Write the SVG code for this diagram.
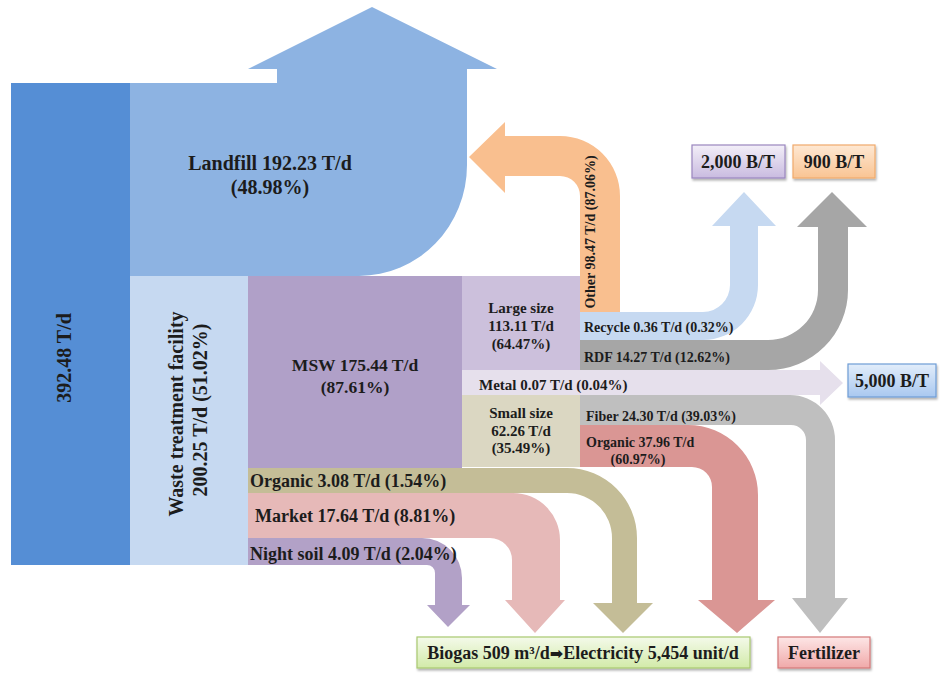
<svg xmlns="http://www.w3.org/2000/svg" width="940" height="675" viewBox="0 0 940 675">
<style>
text{font-family:"Liberation Serif","Times New Roman",serif;font-weight:bold;fill:#1c1c1c}
.s20{font-size:20px}.s18{font-size:18px}.s175{font-size:17.5px}.s15{font-size:15px}.s14{font-size:14px}
.m{text-anchor:middle}
.box{stroke-width:1.2;filter:url(#sh)}
</style>
<defs>
<filter id="sh" x="-10%" y="-20%" width="120%" height="150%"><feDropShadow dx="1" dy="2" stdDeviation="1.2" flood-color="#000" flood-opacity="0.3"/></filter>
<linearGradient id="gPur" x1="0" y1="0" x2="0" y2="1"><stop offset="0" stop-color="#f3eff8"/><stop offset="1" stop-color="#c9bbe0"/></linearGradient>
<linearGradient id="gOra" x1="0" y1="0" x2="0" y2="1"><stop offset="0" stop-color="#fee8d3"/><stop offset="1" stop-color="#f9c493"/></linearGradient>
<linearGradient id="gBlu" x1="0" y1="0" x2="0" y2="1"><stop offset="0" stop-color="#e2edfa"/><stop offset="1" stop-color="#a9c8f0"/></linearGradient>
<linearGradient id="gGrn" x1="0" y1="0" x2="0" y2="1"><stop offset="0" stop-color="#f4faea"/><stop offset="1" stop-color="#d2eaa9"/></linearGradient>
<linearGradient id="gRed" x1="0" y1="0" x2="0" y2="1"><stop offset="0" stop-color="#fde6e6"/><stop offset="1" stop-color="#f0a9a9"/></linearGradient>
</defs>

<g id="nodes">
  <g id="n-total"><rect x="11" y="83" width="119" height="482" fill="#558ed5"/>
    <text class="s20 m" transform="translate(71,358) rotate(-90)">392.48 T/d</text></g>
  <g id="n-wtf"><rect x="130" y="276" width="118" height="289" fill="#c6d9f1"/>
    <text class="s20 m" transform="translate(183,414) rotate(-90)">Waste treatment facility</text>
    <text class="s20 m" transform="translate(207,410) rotate(-90)">200.25 T/d (51.02%)</text></g>
  <g id="n-msw"><rect x="248" y="276" width="214" height="192" fill="#b0a0c8"/>
    <text class="s175 m" x="355" y="371">MSW 175.44 T/d</text>
    <text class="s175 m" x="355" y="393">(87.61%)</text></g>
  <g id="n-large"><rect x="462" y="276" width="118" height="94" fill="#ccc0dc"/>
    <text class="s15 m" x="521" y="313">Large size</text>
    <text class="s15 m" x="521" y="331">113.11 T/d</text>
    <text class="s15 m" x="521" y="349">(64.47%)</text></g>
  <g id="n-small"><rect x="462" y="395" width="118" height="72" fill="#dbd7c2"/>
    <text class="s15 m" x="521" y="418">Small size</text>
    <text class="s15 m" x="521" y="436">62.26 T/d</text>
    <text class="s15 m" x="521" y="453">(35.49%)</text></g>
  <g id="b2000"><rect class="box" x="692" y="145" width="93" height="33" fill="url(#gPur)" stroke="#9a86bf"/>
    <text class="s18 m" x="738" y="168">2,000 B/T</text></g>
  <g id="b900"><rect class="box" x="793" y="145" width="82" height="33" fill="url(#gOra)" stroke="#f0aa6c"/>
    <text class="s18 m" x="834" y="168">900 B/T</text></g>
  <g id="b5000"><rect class="box" x="848" y="364" width="88" height="33" fill="url(#gBlu)" stroke="#6f9dd6"/>
    <text class="s18 m" x="892" y="387">5,000 B/T</text></g>
  <g id="biogas"><rect class="box" x="417" y="637" width="333" height="31" fill="url(#gGrn)" stroke="#a8c870"/>
    <text class="s18 m" x="583" y="659">Biogas 509 m³/d<tspan font-family="DejaVu Sans" font-size="16">➡</tspan>Electricity 5,454 unit/d</text></g>
  <g id="fertilizer"><rect class="box" x="778" y="637" width="92" height="31" fill="url(#gRed)" stroke="#d47878"/>
    <text class="s18 m" x="824" y="659">Fertilizer</text></g>
</g>

<g id="connectors">
  <path id="c-landfill" fill="#8db3e2" d="M130,83 H277 V69 H248 L372,7 L497,69 H467 V165 A108 111 0 0 1 359,276 H130 Z"/>
  <path id="c-other" fill="#f9bf8f" d="M580,312 V196 A20 20 0 0 0 560,176 H505 V193 L469,157 L505,122 V136 H560 A60 60 0 0 1 620,196 V312 Z"/>
  <path id="c-recycle" fill="#c6d9f1" d="M580,312 H703 A27 27 0 0 0 730,285 V226 H712 L744,192 L776,226 H758 V285 A55 55 0 0 1 703,340 H580 Z"/>
  <path id="c-rdf" fill="#a6a6a6" d="M580,340 H768 A50 50 0 0 0 818,290 V227 H797 L832,192 L867,227 H848 V290 A80 80 0 0 1 768,370 H580 Z"/>
  <path id="c-fiber" fill="#bfbfbf" d="M580,395 H790 A45 45 0 0 1 835,440 V598 H848 L820,633 L792,598 H806 V440 A15 15 0 0 0 791,425 H580 Z"/>
  <path id="c-metal" fill="#e6e0ec" d="M462,370 H820 V361 L843,383 L820,405 V395 H462 Z"/>
  <path id="c-organic2" fill="#da9694" d="M580,425 H688 A70 70 0 0 1 758,495 V600 H775 L737,633 L698,600 H712 V487 A20 20 0 0 0 692,467 H580 Z"/>
  <path id="c-organic1" fill="#c4bd97" d="M248,468 H567 A70 70 0 0 1 637,538 V603 H653 L623,633 L593,603 H612 V538 A45 45 0 0 0 567,493 H248 Z"/>
  <path id="c-market" fill="#e6b9b8" d="M248,493 H513 A47 47 0 0 1 560,540 V600 H565 L535,633 L505,600 H512 V560 A22 22 0 0 0 490,538 H248 Z"/>
  <path id="c-nightsoil" fill="#b2a1c7" d="M248,538 H422 A40 40 0 0 1 462,578 V605 H470 L448,627 L427,605 H435 V573 A8 8 0 0 0 427,565 H248 Z"/>
</g>

<g id="labels">
  <text class="s20 m" x="270" y="170">Landfill 192.23 T/d</text>
  <text class="s20 m" x="270" y="194">(48.98%)</text>
  <text class="s14 m" transform="translate(595,232) rotate(-90)">Other 98.47 T/d (87.06%)</text>
  <text class="s14" x="584" y="332">Recycle 0.36 T/d (0.32%)</text>
  <text class="s14" x="584" y="362">RDF 14.27 T/d (12.62%)</text>
  <text class="s15" x="479" y="390">Metal 0.07 T/d (0.04%)</text>
  <text class="s14" x="586" y="421">Fiber 24.30 T/d (39.03%)</text>
  <text class="s14" x="586" y="447">Organic 37.96 T/d</text>
  <text class="s14 m" x="638" y="464">(60.97%)</text>
  <text class="s18" x="250" y="487">Organic 3.08 T/d (1.54%)</text>
  <text class="s18" x="255" y="522">Market 17.64 T/d (8.81%)</text>
  <text class="s18" x="250" y="560">Night soil 4.09 T/d (2.04%)</text>
</g>
</svg>
